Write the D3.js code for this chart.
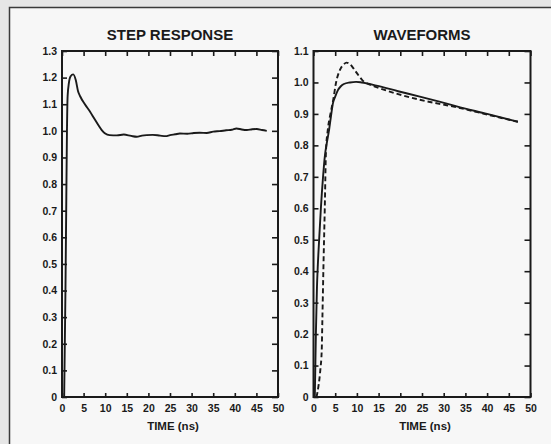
<!DOCTYPE html>
<html>
<head>
<meta charset="utf-8">
<script src="https://cdn.jsdelivr.net/npm/d3@7"></script>
<style>
  html, body { margin: 0; padding: 0; background: #e6e6e6; }
  svg { display: block; }
  text { font-family: "Liberation Sans", Arial, Helvetica, sans-serif; fill: #1a1a1a; }
  .tick line { stroke: #1a1a1a; stroke-width: 1.6; }
  .tick text { font-size: 10.5px; font-weight: bold; }
</style>
</head>
<body>
<svg id="chart" width="551" height="444"></svg>
<script>
/* ---------- data ---------- */
const xTicks = [0, 5, 10, 15, 20, 25, 30, 35, 40, 45, 50];
const stepYTicks = [0, 0.1, 0.2, 0.3, 0.4, 0.5, 0.6, 0.7, 0.8, 0.9, 1.0, 1.1, 1.2, 1.3];
const waveYTicks = [0, 0.1, 0.2, 0.3, 0.4, 0.5, 0.6, 0.7, 0.8, 0.9, 1.0, 1.1];

// step response (time in ns, normalised amplitude)
const stepTime = [0.5, 0.8, 1.0, 1.15, 1.3, 1.6, 2.0, 2.6, 3.2, 3.7, 4.2, 5.3, 6.5, 7.5, 8.4, 9.2,
  10.0, 11.0, 12.7, 14.3, 16.0, 17.3, 18.5, 19.6, 21.0, 22.7, 24.0, 25.0, 26.2, 27.3, 29.0, 30.5,
  31.9, 33.5, 35.0, 36.5, 38.0, 39.3, 40.4, 41.6, 42.8, 44.0, 45.1, 46.3, 47.4];
const stepValue = [0.0, 0.4, 0.75, 1.0, 1.13, 1.18, 1.205, 1.212, 1.19, 1.15, 1.13, 1.10, 1.072, 1.045, 1.022, 1.003,
  0.99, 0.984, 0.983, 0.986, 0.981, 0.978, 0.982, 0.984, 0.985, 0.982, 0.98, 0.984, 0.987, 0.99, 0.989, 0.992,
  0.993, 0.992, 0.997, 0.999, 1.002, 1.004, 1.009, 1.005, 1.003, 1.006, 1.007, 1.003, 1.0];

// waveforms: solid trace
const solidTime = [0.3, 0.55, 0.8, 1.0, 1.3, 1.7, 2.2, 2.65, 3.1, 3.6, 4.0, 4.5, 5.0, 5.6, 6.3, 7.0,
  8.4, 9.8, 11.1, 14.5, 19.5, 24.5, 29.0, 33.0, 40.0, 47.1];
const solidValue = [0.0, 0.2, 0.35, 0.42, 0.5, 0.6, 0.7, 0.77, 0.81, 0.85, 0.89, 0.935, 0.955, 0.975, 0.988, 0.995,
  1.0, 1.002, 1.0, 0.99, 0.972, 0.955, 0.939, 0.924, 0.9, 0.875];

// waveforms: dashed trace
const dashTime = [0.7, 1.2, 1.6, 1.9, 2.05, 2.3, 2.6, 2.87, 3.3, 3.9, 4.55, 5.2, 6.1, 7.0, 7.6, 8.4,
  9.3, 10.4, 11.4, 13.0, 14.5, 19.5, 24.5, 29.0, 33.0, 40.0, 47.1];
const dashValue = [0.0, 0.04, 0.09, 0.15, 0.25, 0.42, 0.6, 0.78, 0.85, 0.9, 0.945, 1.0, 1.04, 1.058, 1.063, 1.058,
  1.043, 1.022, 1.005, 0.993, 0.985, 0.963, 0.945, 0.932, 0.921, 0.898, 0.875];

/* ---------- page frame ---------- */
const svg = d3.select("#chart");

svg.append("rect")
  .attr("x", 9.5).attr("y", 7.5)
  .attr("width", 600).attr("height", 500)
  .attr("fill", "#f7f7f7")
  .attr("stroke", "#3a3a3a")
  .attr("stroke-width", 1.5);

const yFmt = d => d === 0 ? "0" : d3.format(".1f")(d);

/* ---------- one panel ---------- */
function drawPanel(opts) {
  const { left, right, top, bottom, yMax, yTicks, title, series } = opts;

  const x = d3.scaleLinear().domain([0, 50]).range([left, right]);
  const y = d3.scaleLinear().domain([0, yMax]).range([bottom, top]);

  const g = svg.append("g");

  // left axis with labels, ticks pointing inward
  g.append("g")
    .attr("transform", `translate(${left},0)`)
    .call(d3.axisLeft(y).tickValues(yTicks).tickFormat(yFmt)
      .tickSizeInner(-5).tickSizeOuter(0).tickPadding(5))
    .call(a => a.select(".domain").remove());

  // right axis, ticks only
  g.append("g")
    .attr("transform", `translate(${right},0)`)
    .call(d3.axisRight(y).tickValues(yTicks).tickFormat("")
      .tickSizeInner(-6).tickSizeOuter(0))
    .call(a => a.select(".domain").remove());

  // bottom axis with labels
  g.append("g")
    .attr("transform", `translate(0,${bottom})`)
    .call(d3.axisBottom(x).tickValues(xTicks).tickFormat(d3.format("d"))
      .tickSizeInner(-4).tickSizeOuter(0).tickPadding(8))
    .call(a => a.select(".domain").remove());

  // top axis, ticks only
  g.append("g")
    .attr("transform", `translate(0,${top})`)
    .call(d3.axisTop(x).tickValues(xTicks).tickFormat("")
      .tickSizeInner(-5).tickSizeOuter(0))
    .call(a => a.select(".domain").remove());

  // plot box
  g.append("rect")
    .attr("x", left).attr("y", top)
    .attr("width", right - left).attr("height", bottom - top)
    .attr("fill", "none")
    .attr("stroke", "#1a1a1a")
    .attr("stroke-width", 2);

  const line = d3.line()
    .x(d => x(d[0]))
    .y(d => y(d[1]))
    .curve(d3.curveMonotoneX);

  series.forEach(s => {
    g.append("path")
      .datum(d3.zip(s.t, s.v))
      .attr("d", line)
      .attr("fill", "none")
      .attr("stroke", "#1a1a1a")
      .attr("stroke-width", 1.9)
      .attr("stroke-linejoin", "round")
      .attr("stroke-dasharray", s.dash || null);
  });

  g.append("text")
    .attr("x", (left + right) / 2)
    .attr("y", 40)
    .attr("text-anchor", "middle")
    .style("font-size", "15px")
    .style("font-weight", "bold")
    .text(title);

  g.append("text")
    .attr("x", (left + right) / 2 + 3)
    .attr("y", 430)
    .attr("text-anchor", "middle")
    .style("font-size", "11.5px")
    .style("font-weight", "bold")
    .text("TIME (ns)");
}

drawPanel({
  left: 62, right: 278, top: 51, bottom: 397,
  yMax: 1.3, yTicks: stepYTicks,
  title: "STEP RESPONSE",
  series: [{ t: stepTime, v: stepValue }]
});

drawPanel({
  left: 313.5, right: 530.5, top: 51, bottom: 397,
  yMax: 1.1, yTicks: waveYTicks,
  title: "WAVEFORMS",
  series: [
    { t: dashTime, v: dashValue, dash: "5,3" },
    { t: solidTime, v: solidValue }
  ]
});
</script>
</body>
</html>
